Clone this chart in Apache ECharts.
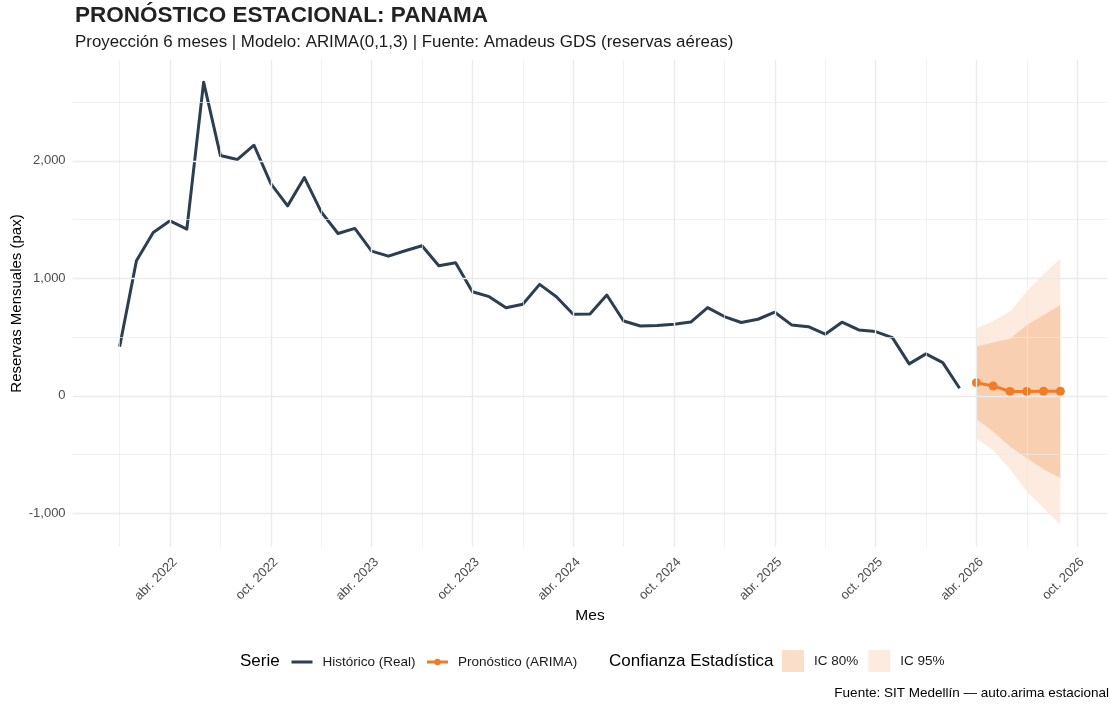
<!DOCTYPE html>
<html>
<head>
<meta charset="utf-8">
<script src="https://cdn.jsdelivr.net/npm/echarts@6/dist/echarts.min.js"></script>
<style>
  html, body { margin: 0; padding: 0; background: #fff; }
  #chart { width: 1110px; height: 704px; }
</style>
</head>
<body>
<div id="chart"></div>
<script>
// Serie mensual histórica: ene. 2022 -> mar. 2026
const inicioHistorico = '2022-01'
const historico = [
  419, 1150, 1391, 1490, 1419, 2670, 2045, 2011, 2133, 1807, 1617, 1858,
  1566, 1382, 1425, 1232, 1189, 1235, 1277, 1107, 1133, 886, 844, 750,
  779, 949, 844, 694, 697, 858, 637, 595, 598, 609, 628, 751,
  675, 624, 652, 712, 604, 589, 525, 627, 561, 547, 496, 272,
  357, 283, 65
]

// Pronóstico ARIMA: abr. 2026 -> sep. 2026
const inicioPronostico = '2026-04'
const pronostico = [112, 84, 38, 38, 39, 39]
const ic80Inf = [-198, -304, -431, -530, -624, -700]
const ic80Sup = [420, 454, 485, 604, 689, 774]
const ic95Inf = [-360, -465, -624, -814, -956, -1098]
const ic95Sup = [576, 638, 717, 888, 1038, 1166]

// ejes
const mesesEtiquetas = ['2022-04', '2022-10', '2023-04', '2023-10', '2024-04', '2024-10', '2025-04', '2025-10', '2026-04', '2026-10']
const etiquetasX = ['abr. 2022', 'oct. 2022', 'abr. 2023', 'oct. 2023', 'abr. 2024', 'oct. 2024', 'abr. 2025', 'oct. 2025', 'abr. 2026', 'oct. 2026']
const mesesMenores = ['2022-01', '2022-07', '2023-01', '2023-07', '2024-01', '2024-07', '2025-01', '2025-07', '2026-01', '2026-07']
const etiquetasY = [-1000, 0, 1000, 2000]
const menoresY = [-500, 500, 1500, 2500]

const NARANJA = '#F17C26'
const AZUL = '#2C3E50'
const FUENTE = 'Liberation Sans, Arial, sans-serif'
const C95 = 'rgba(241,124,38,0.15)'
const C80 = 'rgba(241,124,38,0.25)'

// índice de mes contado desde ene. 2022
const idxMes = (s) => {
  const [a, m] = s.split('-').map(Number)
  return (a - 2022) * 12 + (m - 1)
}

const x0Hist = idxMes(inicioHistorico)
const x0Pron = idxMes(inicioPronostico)
const datosHist = historico.map((v, i) => [x0Hist + i, v])
const xPron = pronostico.map((v, i) => x0Pron + i)
const datosPron = pronostico.map((v, i) => [xPron[i], v])
const datos95 = xPron.map((x, i) => [x, ic95Inf[i], ic95Sup[i]])
const datos80 = xPron.map((x, i) => [x, ic80Inf[i], ic80Sup[i]])

// rango con la expansión del 5% que usa ggplot
const todosX = datosHist.map(d => d[0]).concat(xPron)
const todosY = historico.concat(ic95Inf, ic95Sup)
const xMin = Math.min(...todosX), xMax = Math.max(...todosX)
const yMin = Math.min(...todosY), yMax = Math.max(...todosY)
const padX = (xMax - xMin) * 0.05, padY = (yMax - yMin) * 0.05

// las etiquetas giradas de ggplot quedan un poco a la derecha de la marca
const desfaseEtiqueta = 0.3
const etiquetaPorMes = {}
mesesEtiquetas.forEach((m, i) => { etiquetaPorMes[idxMes(m)] = etiquetasX[i] })

// líneas de rejilla (mayores y menores)
const GRIS = '#ebebeb'
const mayor = { type: 'solid', width: 1.4, color: GRIS }
const menor = { type: 'solid', width: 0.7, color: GRIS }
const rejilla = [].concat(
  mesesEtiquetas.map(m => ({ xAxis: idxMes(m), lineStyle: mayor })),
  mesesMenores.map(m => ({ xAxis: idxMes(m), lineStyle: menor })),
  etiquetasY.map(v => ({ yAxis: v, lineStyle: mayor })),
  menoresY.map(v => ({ yAxis: v, lineStyle: menor }))
)

const fmtMiles = (v) => {
  const s = Math.abs(v).toString().replace(/\B(?=(\d{3})+(?!\d))/g, ',')
  return (v < 0 ? '-' : '') + s
}

// banda de confianza como polígono (inferior de ida, superior de vuelta)
const bandaSerie = (name, datos, color) => ({
  name,
  type: 'custom',
  data: datos,
  encode: { x: 0, y: [1, 2] },
  silent: true,
  itemStyle: { color },
  renderItem: (params, api) => {
    if (params.dataIndex !== 0) return
    const inf = datos.map(d => api.coord([d[0], d[1]]))
    const sup = datos.map(d => api.coord([d[0], d[2]])).reverse()
    return {
      type: 'polygon',
      shape: { points: inf.concat(sup) },
      style: { fill: color }
    }
  }
})

const chart = echarts.init(document.getElementById('chart'), null, { renderer: 'canvas' })

chart.setOption({
  animation: false,
  backgroundColor: '#ffffff',
  textStyle: { fontFamily: FUENTE },
  grid: { left: 72.6, right: 2.6, top: 60, bottom: 157, outerBoundsMode: 'none', containLabel: false },
  xAxis: {
    type: 'value',
    min: xMin - padX,
    max: xMax + padX,
    name: 'Mes',
    nameLocation: 'middle',
    nameGap: 61,
    nameMoveOverlap: false,
    nameTextStyle: { fontFamily: FUENTE, fontSize: 15.5, color: '#000' },
    axisLine: { show: false },
    axisTick: { show: false },
    splitLine: { show: false },
    axisLabel: {
      customValues: mesesEtiquetas.map(m => idxMes(m) + desfaseEtiqueta),
      formatter: (v) => etiquetaPorMes[Math.round(v)] || '',
      rotate: 45,
      margin: 13,
      fontFamily: FUENTE,
      fontSize: 13,
      color: '#4d4d4d'
    }
  },
  yAxis: {
    type: 'value',
    min: yMin - padY,
    max: yMax + padY,
    name: 'Reservas Mensuales (pax)',
    nameLocation: 'middle',
    nameGap: 48,
    nameMoveOverlap: false,
    nameTextStyle: { fontFamily: FUENTE, fontSize: 15, color: '#000' },
    axisLine: { show: false },
    axisTick: { show: false },
    splitLine: { show: false },
    axisLabel: {
      customValues: etiquetasY,
      formatter: fmtMiles,
      margin: 7,
      fontFamily: FUENTE,
      fontSize: 13,
      color: '#4d4d4d'
    }
  },
  legend: [
    {
      data: [
        { name: 'Histórico (Real)', itemStyle: { opacity: 0 } },
        { name: 'Pronóstico (ARIMA)' }
      ],
      left: 285,
      top: 650,
      itemWidth: 21,
      itemHeight: 8,
      itemGap: 10,
      selectedMode: false,
      lineStyle: { width: 3 },
      textStyle: { fontFamily: FUENTE, fontSize: 13.5, color: '#1a1a1a', padding: [0, 0, 0, 5] }
    },
    {
      data: [
        { name: 'IC 80%', icon: 'rect', itemStyle: { color: C80, borderWidth: 0 } },
        { name: 'IC 95%', icon: 'rect', itemStyle: { color: C95, borderWidth: 0 } }
      ],
      left: 777,
      top: 645,
      itemWidth: 22,
      itemHeight: 22,
      itemGap: 10,
      selectedMode: false,
      textStyle: { fontFamily: FUENTE, fontSize: 13.5, color: '#1a1a1a', padding: [0, 0, 0, 5] }
    }
  ],
  graphic: [
    { type: 'text', x: 75, y: 16, style: { text: 'PRONÓSTICO ESTACIONAL: PANAMA', font: 'bold 22.5px ' + FUENTE, fill: '#222222', verticalAlign: 'middle' } },
    { type: 'text', x: 75, y: 42.5, style: { text: 'Proyección 6 meses | Modelo: ARIMA(0,1,3) | Fuente: Amadeus GDS (reservas aéreas)', font: '16.9px ' + FUENTE, fill: '#1a1a1a', verticalAlign: 'middle' } },
    { type: 'text', x: 240, y: 661, style: { text: 'Serie', font: '17px ' + FUENTE, fill: '#000', verticalAlign: 'middle' } },
    { type: 'text', x: 609, y: 661, style: { text: 'Confianza Estadística', font: '17px ' + FUENTE, fill: '#000', verticalAlign: 'middle' } },
    { type: 'text', x: 1109, y: 693, style: { text: 'Fuente: SIT Medellín — auto.arima estacional', font: '13.5px ' + FUENTE, fill: '#000', align: 'right', verticalAlign: 'middle' } }
  ],
  series: [
    {
      name: 'rejilla',
      type: 'line',
      data: [],
      silent: true,
      z: 0,
      markLine: {
        silent: true,
        symbol: ['none', 'none'],
        label: { show: false },
        emphasis: { disabled: true },
        animation: false,
        data: rejilla
      }
    },
    bandaSerie('IC 95%', datos95, C95),
    bandaSerie('IC 80%', datos80, C80),
    {
      name: 'Histórico (Real)',
      type: 'line',
      data: datosHist,
      symbol: 'none',
      lineStyle: { width: 3, color: AZUL, join: 'round' },
      itemStyle: { color: AZUL }
    },
    {
      name: 'Pronóstico (ARIMA)',
      type: 'line',
      data: datosPron,
      symbol: 'circle',
      symbolSize: 9,
      lineStyle: { width: 3, color: NARANJA },
      itemStyle: { color: NARANJA }
    }
  ]
})
</script>
</body>
</html>
